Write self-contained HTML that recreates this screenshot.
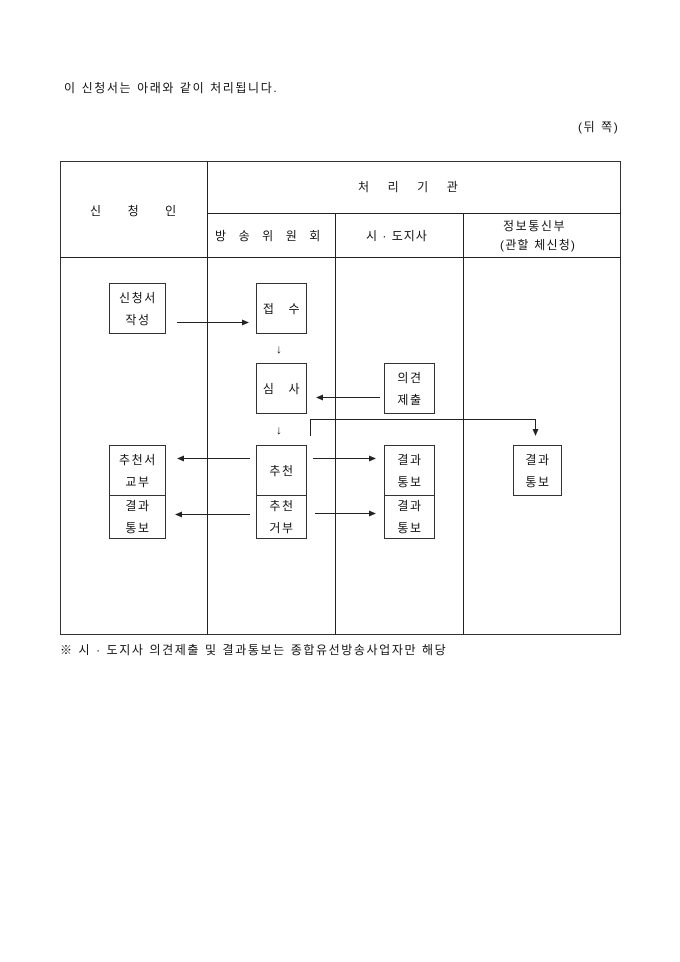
<!DOCTYPE html>
<html><head><meta charset="utf-8"><style>
body{margin:0;width:680px;height:962px;background:#fff;position:relative;font-family:"Liberation Sans","Noto Sans CJK KR","NanumGothic",sans-serif;font-size:12px;color:#111;overflow:hidden;letter-spacing:1.6px}
.t{position:absolute;white-space:nowrap;line-height:14px}
.b{position:absolute;border:1px solid #333;box-sizing:border-box;display:flex;align-items:center;justify-content:center;text-align:center;line-height:22px;font-size:12px;padding-left:1px}
.l{position:absolute;background:#222}
</style></head><body>
<div class="t" style="left:64px;top:81px">이 신청서는 아래와 같이 처리됩니다.</div>
<div class="t" style="left:578px;top:120px">(뒤 쪽)</div>
<div style="position:absolute;left:60px;top:161px;width:561px;height:474px;border:1px solid #333;box-sizing:border-box"></div>
<div class="l" style="left:207px;top:161px;width:1px;height:474px"></div>
<div class="l" style="left:335px;top:213px;width:1px;height:422px"></div>
<div class="l" style="left:463px;top:213px;width:1px;height:422px"></div>
<div class="l" style="left:207px;top:213px;width:414px;height:1px"></div>
<div class="l" style="left:60px;top:257px;width:561px;height:1px"></div>
<div class="t" style="left:90px;top:204px;word-spacing:20px">신 청 인</div>
<div class="t" style="left:358px;top:180px;word-spacing:12px">처 리 기 관</div>
<div class="t" style="left:215px;top:229px;word-spacing:6px">방 송 위 원 회</div>
<div class="t" style="left:366px;top:229px;letter-spacing:1px">시 · 도지사</div>
<div class="t" style="left:503px;top:219px">정보통신부</div>
<div class="t" style="left:500px;top:238px;letter-spacing:1.2px">(관할 체신청)</div>

<div class="b" style="left:109px;top:283px;width:57px;height:51px">신청서<br>작성</div>
<div class="b" style="left:256px;top:283px;width:51px;height:51px;word-spacing:8px">접 수</div>
<div class="b" style="left:256px;top:363px;width:51px;height:51px;word-spacing:8px">심 사</div>
<div class="b" style="left:384px;top:363px;width:51px;height:51px">의견<br>제출</div>
<div class="b" style="left:109px;top:445px;width:57px;height:51px">추천서<br>교부</div>
<div class="b" style="left:109px;top:495px;width:57px;height:44px">결과<br>통보</div>
<div class="b" style="left:256px;top:445px;width:51px;height:51px">추천</div>
<div class="b" style="left:256px;top:495px;width:51px;height:44px">추천<br>거부</div>
<div class="b" style="left:384px;top:445px;width:51px;height:51px">결과<br>통보</div>
<div class="b" style="left:384px;top:495px;width:51px;height:44px">결과<br>통보</div>
<div class="b" style="left:513px;top:445px;width:49px;height:51px">결과<br>통보</div>

<div class="t" style="left:276px;top:342px">↓</div>
<div class="t" style="left:276px;top:423px">↓</div>
<svg style="position:absolute;left:0;top:0" width="680" height="962">
<g stroke="#222" stroke-width="1" fill="none">
<line x1="177" y1="322.5" x2="244" y2="322.5"/>
<line x1="380" y1="397.5" x2="322" y2="397.5"/>
<polyline points="310.5,436 310.5,419.5 535.5,419.5 535.5,430"/>
<line x1="250" y1="458.5" x2="183" y2="458.5"/>
<line x1="250" y1="514.5" x2="181" y2="514.5"/>
<line x1="313" y1="458.5" x2="370" y2="458.5"/>
<line x1="315" y1="513.5" x2="370" y2="513.5"/>
</g>
<g fill="#222">
<polygon points="249,322.5 242,319.5 242,325.5"/>
<polygon points="316,397.5 323,394.5 323,400.5"/>
<polygon points="535.5,436 532.5,429 538.5,429"/>
<polygon points="177,458.5 184,455.5 184,461.5"/>
<polygon points="175,514.5 182,511.5 182,517.5"/>
<polygon points="376,458.5 369,455.5 369,461.5"/>
<polygon points="376,513.5 369,510.5 369,516.5"/>
</g></svg>
<div class="t" style="left:60px;top:643px">※ 시 · 도지사 의견제출 및 결과통보는 종합유선방송사업자만 해당</div>
</body></html>
